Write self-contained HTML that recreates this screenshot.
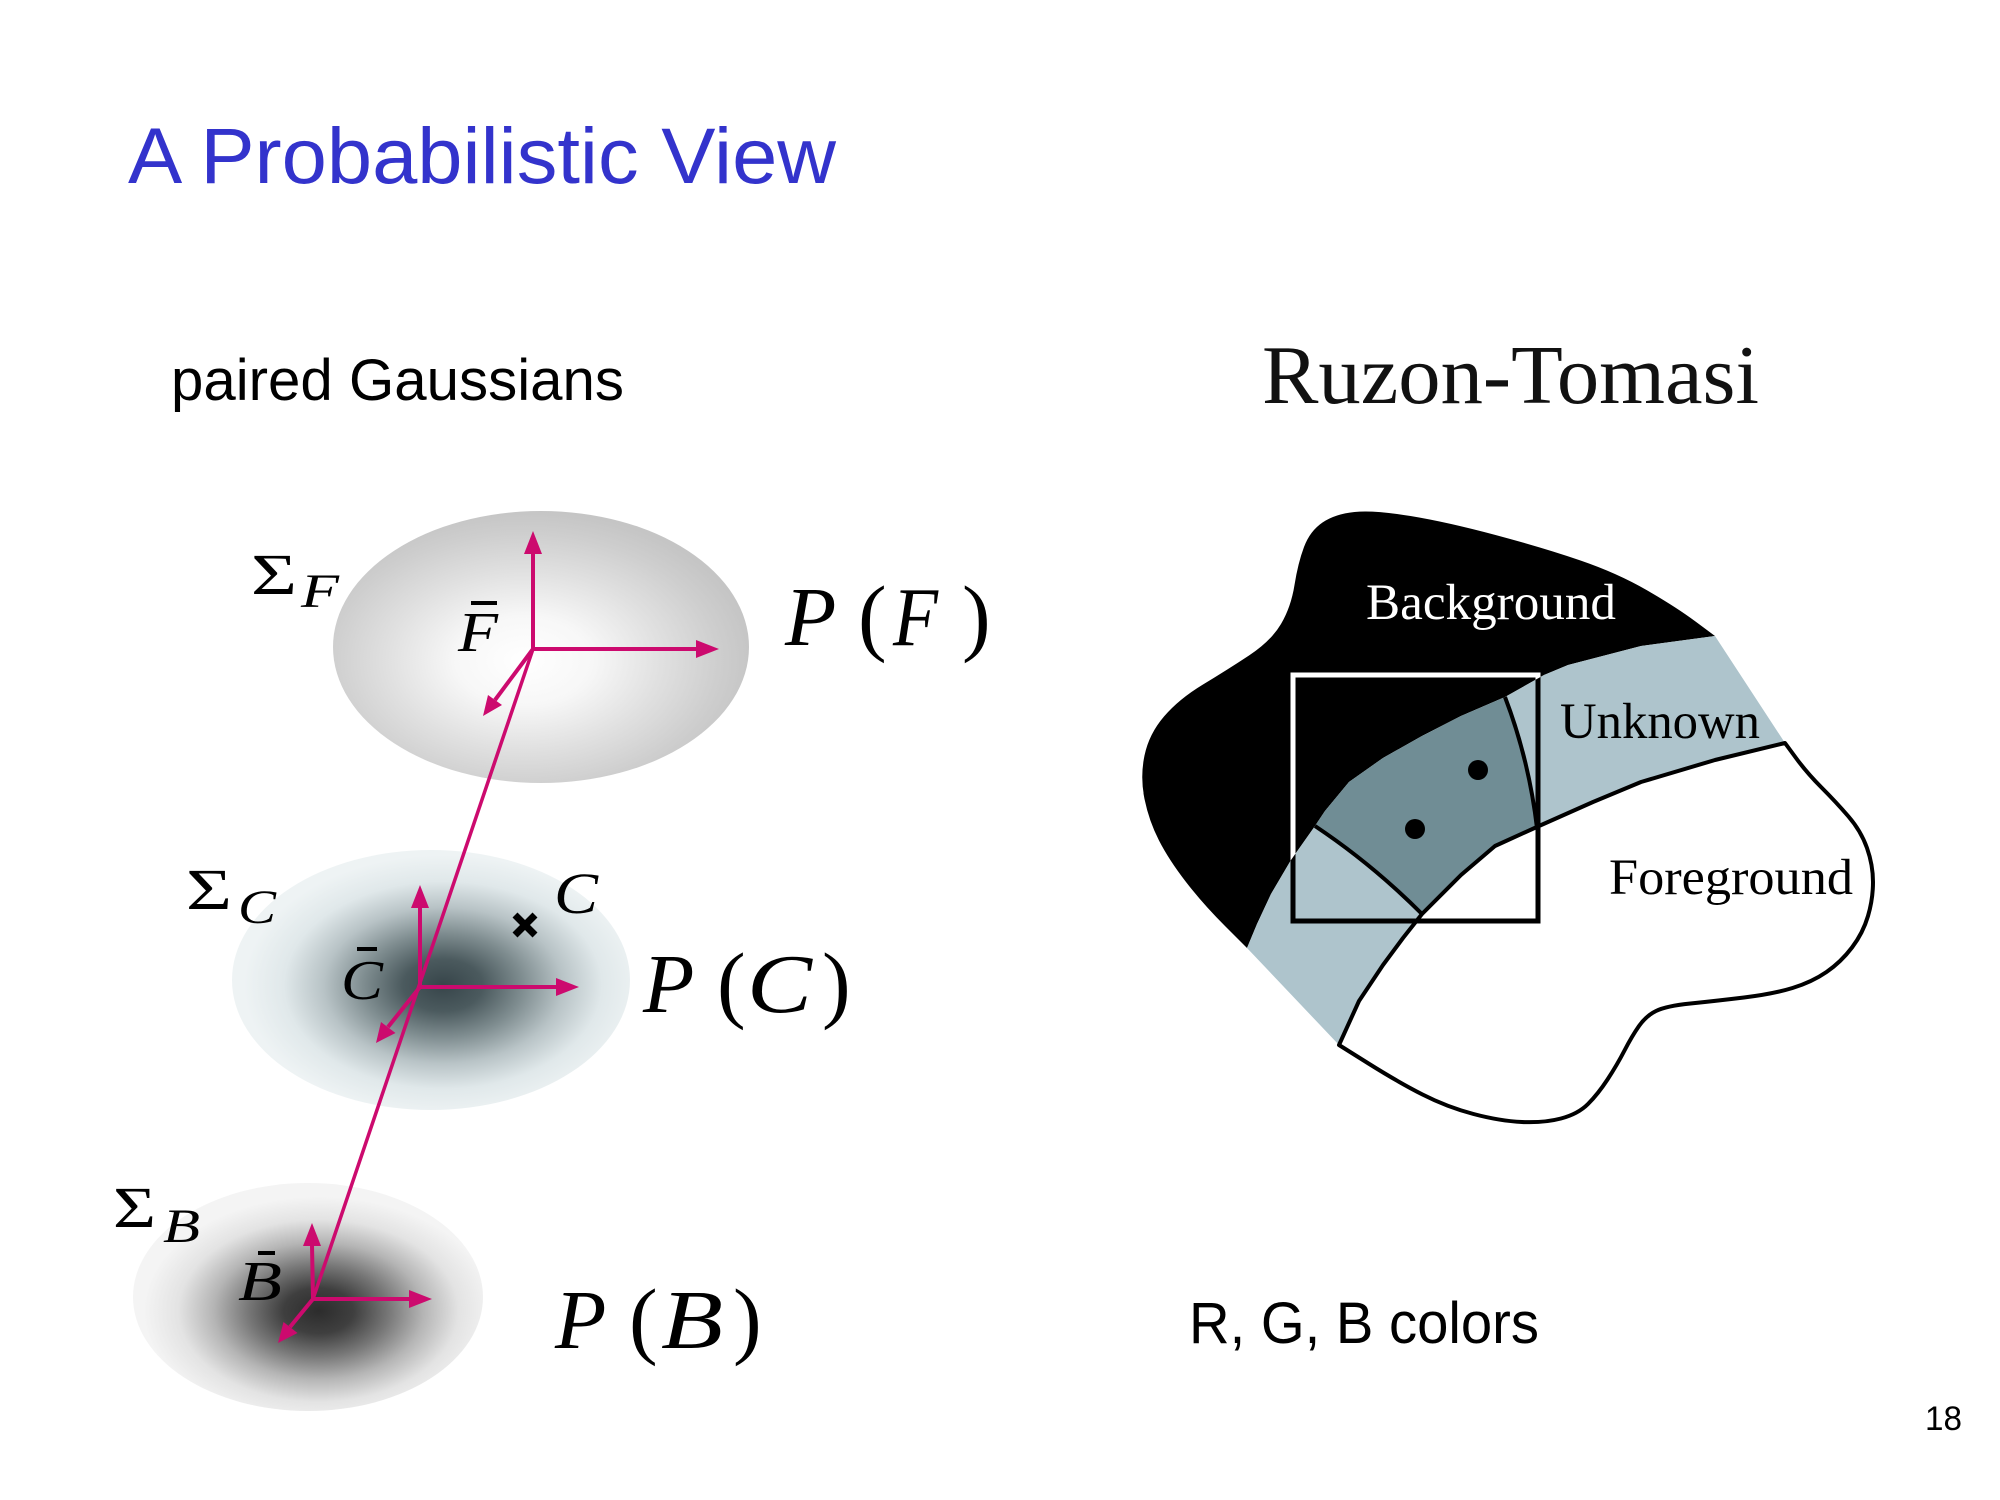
<!DOCTYPE html>
<html>
<head>
<meta charset="utf-8">
<style>
html,body{margin:0;padding:0;background:#fff;}
svg{display:block;}
</style>
</head>
<body>
<svg width="2000" height="1500" viewBox="0 0 2000 1500" xmlns="http://www.w3.org/2000/svg">
<defs>
  <radialGradient id="gF" cx="0.46" cy="0.55" r="0.55">
    <stop offset="0" stop-color="#ffffff"/>
    <stop offset="0.3" stop-color="#f7f7f7"/>
    <stop offset="0.6" stop-color="#e0e0e0"/>
    <stop offset="0.85" stop-color="#cecece"/>
    <stop offset="1" stop-color="#c5c5c5"/>
  </radialGradient>
  <radialGradient id="gC" cx="0.53" cy="0.52" r="0.5">
    <stop offset="0" stop-color="#37454a"/>
    <stop offset="0.2" stop-color="#4b5a5e"/>
    <stop offset="0.4" stop-color="#7f8d90"/>
    <stop offset="0.6" stop-color="#b8c3c6"/>
    <stop offset="0.8" stop-color="#e0e8ea"/>
    <stop offset="1" stop-color="#eef3f4"/>
  </radialGradient>
  <radialGradient id="gB" cx="0.53" cy="0.56" r="0.5">
    <stop offset="0" stop-color="#2c2c2c"/>
    <stop offset="0.2" stop-color="#3f3f3f"/>
    <stop offset="0.4" stop-color="#777777"/>
    <stop offset="0.6" stop-color="#b5b5b5"/>
    <stop offset="0.8" stop-color="#e3e3e3"/>
    <stop offset="1" stop-color="#f4f4f4"/>
  </radialGradient>
  <clipPath id="blackClip">
    <path d="M1715,636 L1695.5,621.5 Q1676,607 1646.5,590 Q1617,573 1580.5,560.5 Q1544,548 1495.5,535 Q1447,522 1410.5,516 Q1374,510 1354.5,512 Q1335,514 1322.5,522.5 Q1310,531 1304,547 Q1298,563 1294.5,585 Q1291,607 1281,624 Q1271,641 1249,655.5 Q1227,670 1203,684.5 Q1179,699 1164,716.5 Q1149,734 1144.5,755.5 Q1140,777 1144.5,799 Q1149,821 1159,840.5 Q1169,860 1186,882 Q1203,904 1225,926 L1247,948 L1257,924 L1271,894 L1291,860 L1315,826 L1325,811 L1349,782 L1383,758 L1422,736 L1461,716 L1505,697 L1544,675 L1568,665 L1641,646 Z"/>
  </clipPath>
</defs>

<!-- Title -->
<text x="128" y="183" font-family="Liberation Sans, sans-serif" font-size="79" fill="#3333cc" textLength="708" lengthAdjust="spacingAndGlyphs">A Probabilistic View</text>

<text x="171" y="400" font-family="Liberation Sans, sans-serif" font-size="58" fill="#000" textLength="453" lengthAdjust="spacingAndGlyphs">paired Gaussians</text>

<text x="1262" y="403" font-family="Liberation Serif, serif" font-size="84" fill="#111" textLength="497" lengthAdjust="spacingAndGlyphs">Ruzon-Tomasi</text>

<text x="1189" y="1343" font-family="Liberation Sans, sans-serif" font-size="58" fill="#000" textLength="350" lengthAdjust="spacingAndGlyphs">R, G, B colors</text>

<text x="1925" y="1430" font-family="Liberation Sans, sans-serif" font-size="34" fill="#000" textLength="37" lengthAdjust="spacingAndGlyphs">18</text>

<!-- Gaussians -->
<ellipse cx="541" cy="647" rx="208" ry="136" fill="url(#gF)"/>
<ellipse cx="431" cy="980" rx="199" ry="130" fill="url(#gC)"/>
<ellipse cx="308" cy="1297" rx="175" ry="114" fill="url(#gB)"/>

<!-- Magenta axes -->
<g stroke="#cc0a6e" stroke-width="4" fill="none">
  <line x1="533" y1="649" x2="313" y2="1299" stroke-width="3.5"/>
  <line x1="533" y1="649" x2="533" y2="551"/>
  <line x1="533" y1="649" x2="698" y2="649"/>
  <line x1="533" y1="649" x2="495" y2="700"/>
  <line x1="420" y1="987" x2="420" y2="907"/>
  <line x1="420" y1="987" x2="557" y2="987"/>
  <line x1="420" y1="987" x2="388" y2="1027"/>
  <line x1="313" y1="1299" x2="312" y2="1245"/>
  <line x1="313" y1="1299" x2="410" y2="1299"/>
  <line x1="313" y1="1299" x2="290" y2="1327"/>
</g>
<g fill="#cc0a6e">
  <polygon points="533,531 524,554 542,554"/>
  <polygon points="719,649 696,640 696,658"/>
  <polygon points="483,716 502,705 488,695"/>
  <polygon points="420,885 411,908 429,908"/>
  <polygon points="579,987 556,978 556,996"/>
  <polygon points="376,1043 395.5,1033 381,1022"/>
  <polygon points="312,1223 303,1246 321,1246"/>
  <polygon points="432,1299 409,1290 409,1308"/>
  <polygon points="278,1343 297.5,1333 283.5,1322"/>
</g>

<!-- cross -->
<g stroke="#000" stroke-width="7">
  <line x1="515" y1="915" x2="535" y2="935"/>
  <line x1="535" y1="915" x2="515" y2="935"/>
</g>

<!-- Left labels -->
<g font-family="Liberation Serif, serif" fill="#000">
  <text x="251" y="594" font-size="58" textLength="46" lengthAdjust="spacingAndGlyphs">Σ</text>
  <text x="301" y="607" font-size="48" font-style="italic" textLength="38" lengthAdjust="spacingAndGlyphs">F</text>
  <text x="458" y="651" font-size="56" font-style="italic" textLength="40" lengthAdjust="spacingAndGlyphs">F</text>

  <text x="186" y="909" font-size="58" textLength="46" lengthAdjust="spacingAndGlyphs">Σ</text>
  <text x="238" y="923" font-size="48" font-style="italic" textLength="38" lengthAdjust="spacingAndGlyphs">C</text>
  <text x="554" y="913" font-size="58" font-style="italic" textLength="44" lengthAdjust="spacingAndGlyphs">C</text>
  <text x="341" y="999" font-size="56" font-style="italic" textLength="42" lengthAdjust="spacingAndGlyphs">C</text>

  <text x="113" y="1227" font-size="58" textLength="43" lengthAdjust="spacingAndGlyphs">Σ</text>
  <text x="163" y="1242" font-size="48" font-style="italic" textLength="37" lengthAdjust="spacingAndGlyphs">B</text>
  <text x="238" y="1300" font-size="56" font-style="italic" textLength="44" lengthAdjust="spacingAndGlyphs">B</text>

  <!-- P(F) -->
  <text x="785" y="645" font-size="84" font-style="italic">P</text>
  <text x="858" y="645" font-size="86">(</text>
  <text x="893" y="645" font-size="84" font-style="italic" textLength="45" lengthAdjust="spacingAndGlyphs">F</text>
  <text x="962" y="645" font-size="86">)</text>
  <!-- P(C) -->
  <text x="643" y="1012" font-size="84" font-style="italic">P</text>
  <text x="717" y="1012" font-size="86">(</text>
  <text x="747" y="1012" font-size="84" font-style="italic" textLength="65" lengthAdjust="spacingAndGlyphs">C</text>
  <text x="822" y="1012" font-size="86">)</text>
  <!-- P(B) -->
  <text x="555" y="1348" font-size="84" font-style="italic">P</text>
  <text x="629" y="1348" font-size="86">(</text>
  <text x="661" y="1348" font-size="84" font-style="italic" textLength="62" lengthAdjust="spacingAndGlyphs">B</text>
  <text x="733" y="1348" font-size="86">)</text>
</g>
<!-- bars -->
<rect x="471" y="601" width="26" height="4" fill="#000"/>
<rect x="357" y="947" width="20" height="4" fill="#000"/>
<rect x="258" y="1251" width="17" height="4" fill="#000"/>

<!-- Right diagram -->
<path fill="#000" d="M1715,636 L1695.5,621.5 Q1676,607 1646.5,590 Q1617,573 1580.5,560.5 Q1544,548 1495.5,535 Q1447,522 1410.5,516 Q1374,510 1354.5,512 Q1335,514 1322.5,522.5 Q1310,531 1304,547 Q1298,563 1294.5,585 Q1291,607 1281,624 Q1271,641 1249,655.5 Q1227,670 1203,684.5 Q1179,699 1164,716.5 Q1149,734 1144.5,755.5 Q1140,777 1144.5,799 Q1149,821 1159,840.5 Q1169,860 1186,882 Q1203,904 1225,926 L1247,948 L1257,924 L1271,894 L1291,860 L1315,826 L1325,811 L1349,782 L1383,758 L1422,736 L1461,716 L1505,697 L1544,675 L1568,665 L1641,646 Z"/>
<path fill="#aec4cc" d="M1715,636 L1641,646 L1568,665 L1544,675 L1505,697 L1461,716 L1422,736 L1383,758 L1349,782 L1325,811 L1315,826 L1291,860 L1271,894 L1257,924 L1247,948 L1339,1045 L1359,1001 L1383,965 L1403,938 L1422,914 L1432,904 L1461,875 L1495,846 L1539,826 L1593,802 L1641,782 L1715,760 L1785,743 Z"/>
<path fill="#708d95" d="M1505,697 L1461,716 L1422,736 L1383,758 L1349,782 L1325,811 L1315,826 Q1372,864 1422,914 L1432,904 L1461,875 L1495,846 L1537,828 Q1529,760 1505,697 Z"/>
<path fill="#fff" stroke="#000" stroke-width="4" stroke-linejoin="round" d="M1785,743 L1796,758 Q1807,773 1821.5,787.5 Q1836,802 1848.5,816.5 Q1861,831 1867,848 Q1873,865 1873,882 Q1873,899 1868,916 Q1863,933 1852,947.5 Q1841,962 1826.5,972 Q1812,982 1792.5,988 Q1773,994 1744,997.5 Q1715,1001 1690.5,1003.5 Q1666,1006 1656,1011 Q1646,1016 1639,1026 Q1632,1036 1624.5,1050.5 Q1617,1065 1607.5,1079.5 Q1598,1094 1588,1104 Q1578,1114 1561,1118.5 Q1544,1123 1522,1122 Q1500,1121 1473.5,1114 Q1447,1107 1422.5,1094.5 Q1398,1082 1368.5,1063.5 L1339,1045 L1359,1001 L1383,965 L1403,938 L1422,914 L1432,904 L1461,875 L1495,846 L1539,826 L1593,802 L1641,782 L1715,760 Z"/>
<g stroke="#000" stroke-width="4" fill="none">
  <path d="M1315,826 Q1372,864 1422,914"/>
  <path d="M1505,697 Q1529,760 1537,828"/>
</g>
<circle cx="1478" cy="770" r="10" fill="#000"/>
<circle cx="1415" cy="829" r="10" fill="#000"/>

<rect x="1293" y="675" width="245" height="246" fill="none" stroke="#000" stroke-width="5"/>
<rect x="1293" y="675" width="245" height="246" fill="none" stroke="#fff" stroke-width="5" clip-path="url(#blackClip)"/>

<g font-family="Liberation Serif, serif" font-size="51">
  <text x="1366" y="619" fill="#fff" textLength="250" lengthAdjust="spacingAndGlyphs">Background</text>
  <text x="1560" y="738" fill="#000" textLength="200" lengthAdjust="spacingAndGlyphs">Unknown</text>
  <text x="1609" y="894" fill="#000" textLength="244" lengthAdjust="spacingAndGlyphs">Foreground</text>
</g>
</svg>
</body>
</html>
